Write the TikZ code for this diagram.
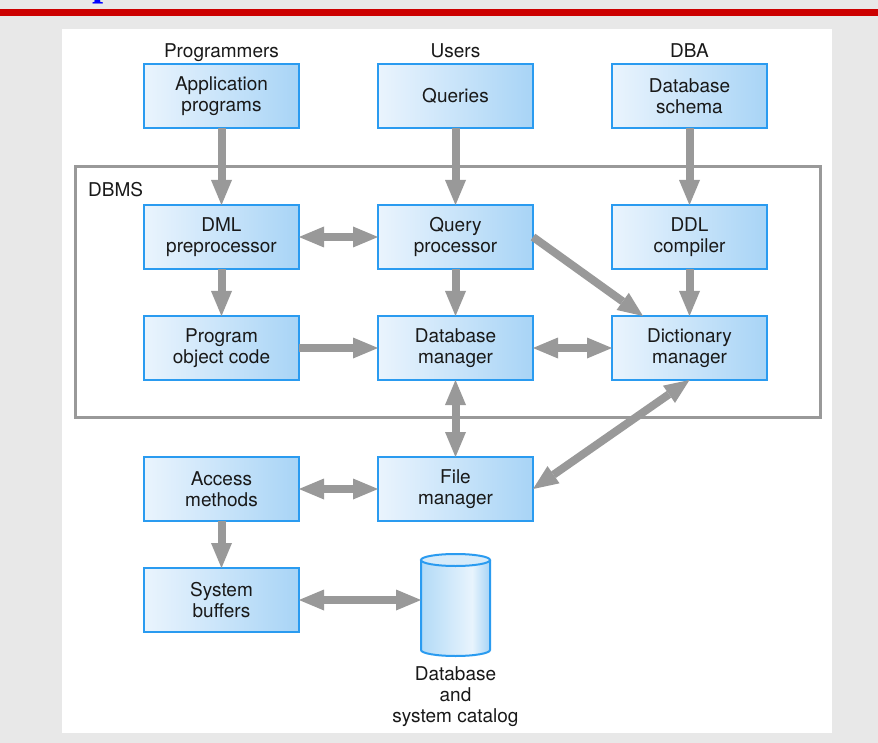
\documentclass[tikz,border=0pt]{standalone}
\usepackage{fontspec}
\setmainfont{TeX Gyre Heros}
\newfontfamily\titlefont{Liberation Serif}
\usetikzlibrary{positioning,calc,arrows.meta}
\definecolor{boxleft}{HTML}{EAF4FD}
\definecolor{boxright}{HTML}{A8D4F6}
\definecolor{boxline}{HTML}{2A9BF0}
\definecolor{arrowgray}{HTML}{999999}
\definecolor{pagegray}{HTML}{E8E8E8}
\definecolor{titlered}{HTML}{CC0000}
\definecolor{cylleft}{HTML}{B2DAF7}
\definecolor{cylmid}{HTML}{E8F4FD}
\definecolor{cyltop}{HTML}{D6EBFA}
\pgfdeclarehorizontalshading{cylshade}{100bp}{color(0bp)=(cylleft); color(25bp)=(cylleft); color(62bp)=(cylmid); color(75bp)=(boxright); color(100bp)=(boxright)}
\tikzset{block/.style={draw=boxline,line width=2pt,left color=boxleft,right color=boxright,minimum width=155pt,minimum height=64pt,outer sep=0pt,align=center,font=\fontsize{19}{21}\selectfont,text=black!90},
         role/.style={inner sep=0pt,align=center,font=\fontsize{19}{21}\selectfont,text=black!90},
         gtip/.tip={Triangle[length=25pt,width=21pt,line width=0pt]},
         line/.style={draw=arrowgray,line width=8pt,-gtip},
         biline/.style={draw=arrowgray,line width=8pt,gtip-gtip}
}
\begin{document}
\begin{tikzpicture}[x=1pt,y=-1pt]
  \useasboundingbox (0,0) rectangle (878,743);
  \fill[pagegray] (0,0) rectangle (878,743);
  \fill[titlered] (0,9) rectangle (878,16);
  \begin{scope}
    \clip (0,0) rectangle (878,9);
    \node[anchor=base west,inner sep=0pt,text=blue,font=\fontsize{40}{40}\titlefont\bfseries] (title) at (92,-4) {p};
  \end{scope}
  \fill[white] (62,29) rectangle (832,733);
  \draw[arrowgray,line width=3pt] (75.5,166.5) rectangle (820.5,417.5);
  \node[role,anchor=base west] (dbms) at (88,197) {DBMS};
  % top row
  \node[block] (app) at (221.5,96) {Application\\programs};
  \node[block,right=79pt of app] (qry) {Queries};
  \node[block,right=79pt of qry] (sch) {Database\\schema};
  \node[role,above=6.5pt of app,anchor=base] (prog) {Programmers};
  \node[role,above=6.5pt of qry,anchor=base] (usr) {Users};
  \node[role,above=6.5pt of sch,anchor=base] (dba) {DBA};
  % inside the DBMS
  \node[block,below=77pt of app] (dml) {DML\\preprocessor};
  \node[block,below=77pt of qry] (qp) {Query\\processor};
  \node[block,below=77pt of sch] (ddl) {DDL\\compiler};
  \node[block,below=47pt of dml] (poc) {Program\\object code};
  \node[block,below=47pt of qp] (dbm) {Database\\manager};
  \node[block,below=47pt of ddl] (dict) {Dictionary\\manager};
  % below the DBMS
  \node[block,below=77pt of dbm] (fm) {File\\manager};
  \node[block,below=77pt of poc] (acc) {Access\\methods};
  \node[block,below=47pt of acc] (buf) {System\\buffers};
  \node[minimum width=69pt,minimum height=102pt,inner sep=0pt,outer sep=0pt,below=33pt of fm] (db) {};
  \path[shading=cylshade] ($(db.north west)+(0,6)$) -- ($(db.south west)+(0,-6)$)
    arc[start angle=180,end angle=360,x radius=34.5pt,y radius=6pt] -- ($(db.north east)+(0,6)$) -- cycle;
  \draw[boxline,line width=2pt] ($(db.north west)+(0,6)$) -- ($(db.south west)+(0,-6)$)
    arc[start angle=180,end angle=360,x radius=34.5pt,y radius=6pt] -- ($(db.north east)+(0,6)$);
  \draw[boxline,line width=2pt,fill=cyltop] ($(db.north)+(0,6)$) ellipse[x radius=34.5pt,y radius=6pt];
  \node[role,below=10pt of db] (dbtext) {Database\\and\\system catalog};
  % connectors
  \draw[line] (app) -- (dml);
  \draw[line] (qry) -- (qp);
  \draw[line] (sch) -- (ddl);
  \draw[biline] (dml) -- (qp);
  \draw[line] (dml) -- (poc);
  \draw[line] (qp) -- (dbm);
  \draw[line] (qp.east) -- ($(dict.north west)!0.2!(dict.north east)$);
  \draw[line] (ddl) -- (dict);
  \draw[line] (poc) -- (dbm);
  \draw[biline] (dbm) -- (dict);
  \draw[biline] (dbm) -- (fm);
  \draw[biline] (dict.south) -- (fm.east);
  \draw[biline] (acc) -- (fm);
  \draw[line] (acc) -- (buf);
  \draw[biline] (buf.east) -- (buf.east -| db.west);
\end{tikzpicture}
\end{document}
